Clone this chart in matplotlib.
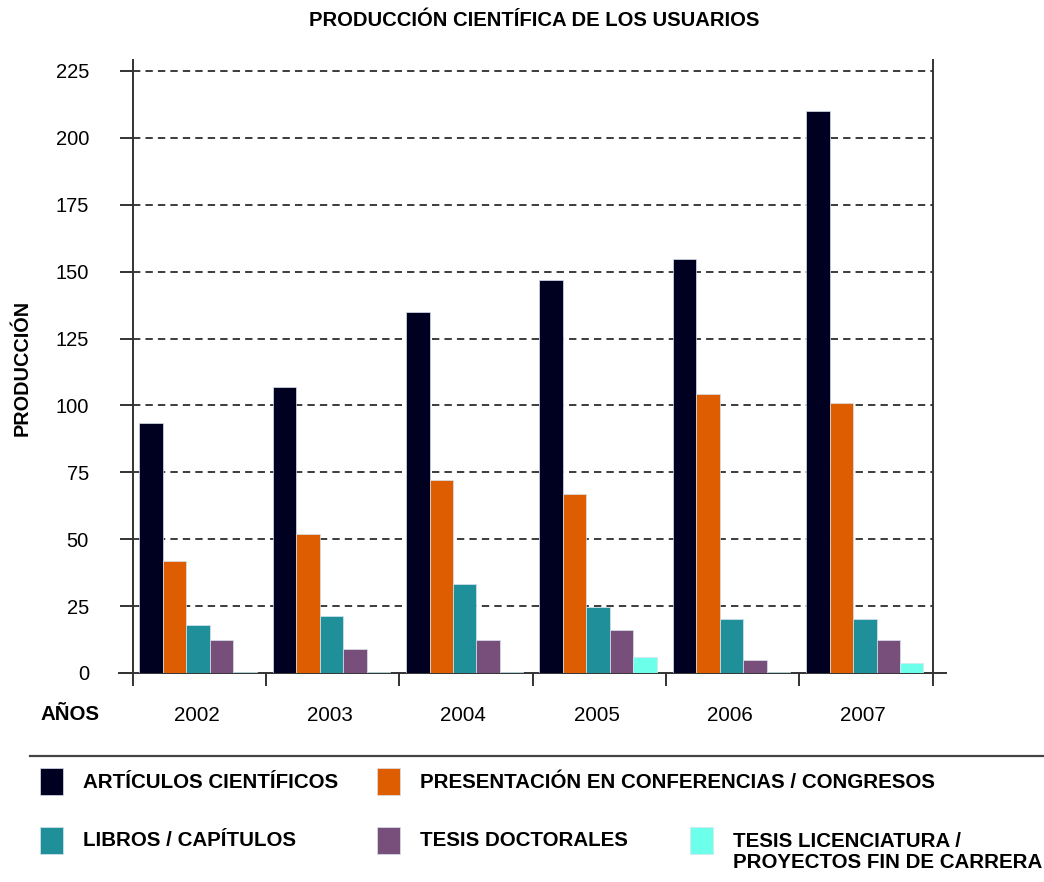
import matplotlib
matplotlib.use("Agg")
import matplotlib.pyplot as plt
import matplotlib.patches as mpatches
from matplotlib.lines import Line2D
import numpy as np

plt.rcParams['font.family'] = ['Liberation Sans', 'DejaVu Sans']

# Datos
anios = ["2002", "2003", "2004", "2005", "2006", "2007"]
articulos = [93.5, 106.9, 135, 147, 154.9, 210]
presentaciones = [42, 52, 72.3, 67, 104.2, 101]
libros = [17.9, 21.3, 33.4, 24.6, 20.1, 20.1]
tesis_doctorales = [12.5, 9.1, 12.5, 15.9, 5, 12.5]
tesis_licenciatura = [0.5, 0.5, 0.5, 5.8, 0.5, 3.6]

series = [articulos, presentaciones, libros, tesis_doctorales, tesis_licenciatura]
nombres = ["ARTÍCULOS CIENTÍFICOS",
           "PRESENTACIÓN EN CONFERENCIAS / CONGRESOS",
           "LIBROS / CAPÍTULOS",
           "TESIS DOCTORALES",
           "TESIS LICENCIATURA /\nPROYECTOS FIN DE CARRERA"]
colores = ["#000020", "#DE5D00", "#1F8F99", "#784E7B", "#6CFFE9"]

W, H = 1044, 882
fig = plt.figure(figsize=(W / 100, H / 100), dpi=100)
ax = fig.add_axes([132.5 / W, 1 - 673 / H, 800.2 / W, 613 / H])

# Barras
x = np.arange(len(anios))
ancho = 0.176
for j, (vals, col) in enumerate(zip(series, colores)):
    ax.bar(x + 0.051 + ancho / 2 + j * ancho, vals, width=ancho, color=col,
           edgecolor='#d8e4ee', linewidth=0.5, zorder=3)

ax.set_xlim(0, 6)
ax.set_ylim(0, 229.1)

# Rejilla
for v in range(25, 226, 25):
    ax.axhline(v, color='#111111', lw=1.15, linestyle=(0, (4.6, 3.2)), zorder=1)

# Ejes
for s in ['top', 'bottom']:
    ax.spines[s].set_visible(False)
for s in ['left', 'right']:
    ax.spines[s].set_color('#333333')
    ax.spines[s].set_linewidth(1.4)
ax.plot([-0.0975, 6.1], [0, 0], color='#333333', lw=1.4, clip_on=False, zorder=2)

ax.set_yticks(range(0, 226, 25))
ax.tick_params(axis='y', direction='out', length=9.4, width=1.4, color='#333333',
               pad=22, labelsize=14.5)
ax.set_xticks(range(0, 7))
ax.set_xticklabels([])
ax.tick_params(axis='x', which='major', direction='out', length=9.4, width=1.4,
               color='#333333')
ax.set_xticks(x + 0.48, minor=True)
ax.set_xticklabels(anios, minor=True)
ax.tick_params(axis='x', which='minor', length=0, pad=24, labelsize=14.8)

# Textos
fig.text(534 / W, 1 - 20 / H, "PRODUCCIÓN CIENTÍFICA DE LOS USUARIOS",
         ha='center', va='center', fontsize=14.6, fontweight='bold')
fig.text(22 / W, 1 - 368 / H, "PRODUCCIÓN", rotation=90, ha='center',
         va='center', fontsize=14.3, fontweight='bold')
fig.text(40 / W, 1 - 715 / H, "AÑOS", ha='left', va='center',
         fontsize=14.8, fontweight='bold')

# Separador
fig.add_artist(Line2D([30 / W, 1], [1 - 756 / H, 1 - 756 / H],
                      color='#444444', lw=1.6))

# Leyenda
pos = [(40, 768, 83, 782), (377, 768, 420, 782),
       (40, 827, 83, 841), (377, 827, 420, 841), (690, 827, 733, 852)]
for (px, py, tx, ty), nombre, col in zip(pos, nombres, colores):
    fig.add_artist(mpatches.Rectangle((px / W, 1 - (py + 27) / H), 23 / W, 27 / H,
                                      facecolor=col, edgecolor='#d8e4ee', lw=0.5,
                                      transform=fig.transFigure))
    fig.text(tx / W, 1 - ty / H, nombre, ha='left', va='center', fontsize=14.8,
             fontweight='bold', linespacing=1.1)

fig.savefig("out.png", dpi=100)
